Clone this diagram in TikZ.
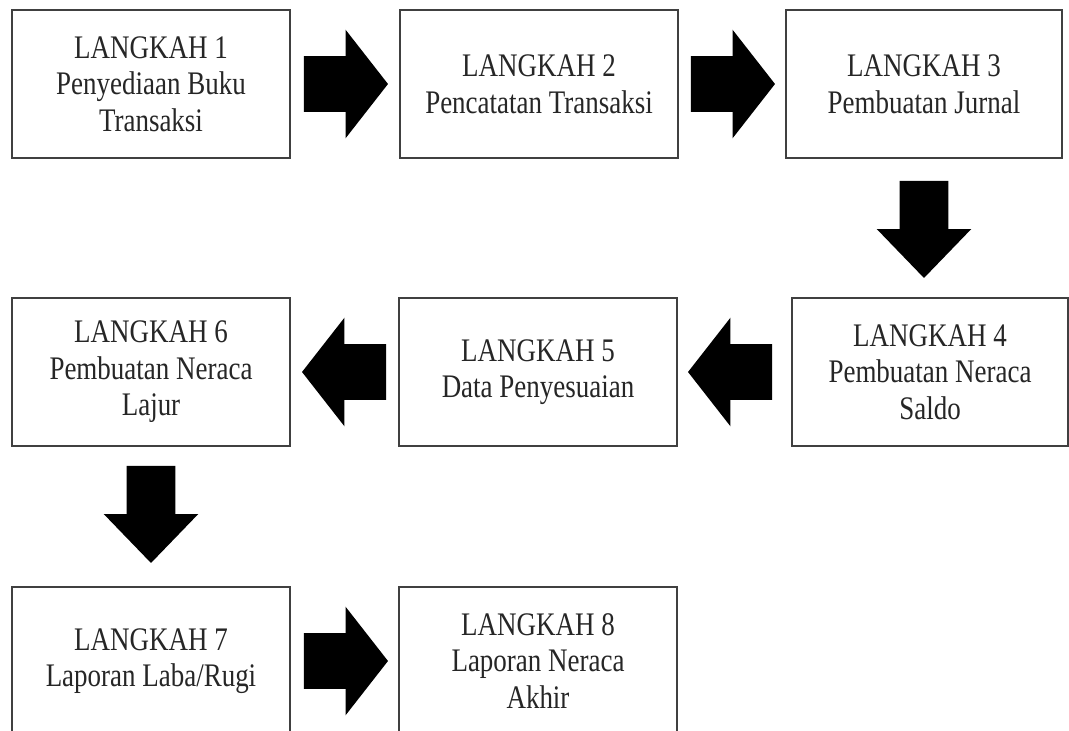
\documentclass[tikz,border=0pt]{standalone}
\usepackage{fontspec}
\setmainfont{Liberation Serif}[FakeStretch=0.82]
\usepackage{tikz}
\usetikzlibrary{shapes.arrows, calc}

\tikzset{
  stepbox/.style={draw=black!75, line width=1pt, fill=white, minimum width=6.95cm, minimum height=3.7cm,
    align=center, inner sep=0pt, text=black!85, font=\fontsize{23.4}{26}\selectfont},
  harrow/.style={single arrow, fill=black, draw=none, inner xsep=0pt, inner ysep=0.6875cm, anchor=tail,
    minimum height=2.1cm, minimum width=2.7cm, single arrow head extend=0.6625cm, single arrow tip angle=104},
  varrow/.style={single arrow, fill=black, draw=none, inner xsep=0pt, inner ysep=0.6cm, anchor=tail, rotate=270,
    minimum height=2.425cm, minimum width=2.35cm, single arrow head extend=0.575cm, single arrow tip angle=88}
}

\begin{document}
\begin{tikzpicture}
  \useasboundingbox (0,0) rectangle (26.725,-18.275);
  \clip (0,0) rectangle (26.725,-18.275);

  % Row 1
  \node[stepbox] (step1) at (3.775, -2.1) {LANGKAH 1\\Penyediaan Buku\\Transaksi};
  \node[stepbox] (step2) at (13.475, -2.1) {LANGKAH 2\\Pencatatan Transaksi};
  \node[stepbox, minimum width=6.9cm] (step3) at (23.1, -2.1) {LANGKAH 3\\Pembuatan Jurnal};

  % Row 2
  \node[stepbox, minimum width=6.9cm] (step4) at (23.25, -9.3) {LANGKAH 4\\Pembuatan Neraca\\Saldo};
  \node[stepbox] (step5) at (13.45, -9.3) {LANGKAH 5\\Data Penyesuaian};
  \node[stepbox] (step6) at (3.775, -9.3) {LANGKAH 6\\Pembuatan Neraca\\Lajur};

  % Row 3
  \node[stepbox] (step7) at (3.775, -16.525) {LANGKAH 7\\Laporan Laba/Rugi};
  \node[stepbox] (step8) at (13.45, -16.525) {LANGKAH 8\\Laporan Neraca\\Akhir};

  % Block arrows, tail just off the box they leave
  \node[harrow] (a12) at ($(step1.east)+(0.325,0)$) {};
  \node[harrow] (a23) at ($(step2.east)+(0.3,0)$) {};
  \node[varrow] (a34) at ($(step3.south)+(0,-0.55)$) {};
  \node[harrow, rotate=180] (a45) at ($(step4.west)+(-0.475,0)$) {};
  \node[harrow, rotate=180] (a56) at ($(step5.west)+(-0.3,0)$) {};
  \node[varrow] (a67) at ($(step6.south)+(0,-0.475)$) {};
  \node[harrow] (a78) at ($(step7.east)+(0.325,0)$) {};
\end{tikzpicture}
\end{document}
